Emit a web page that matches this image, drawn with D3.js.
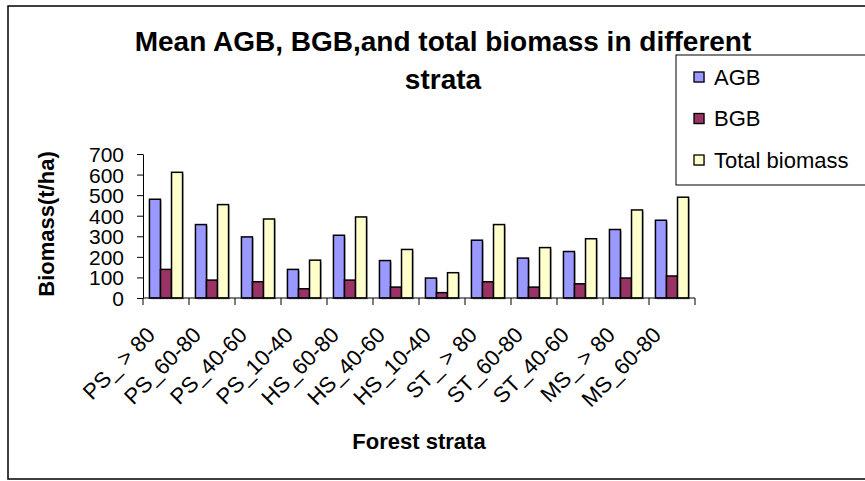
<!DOCTYPE html>
<html>
<head>
<meta charset="utf-8">
<script src="https://cdn.jsdelivr.net/npm/d3@7"></script>
<style>
  body { margin: 0; background: #fff; }
  text { font-family: "Liberation Sans", Arial, sans-serif; fill: #000; }
</style>
</head>
<body>
<script>
// data
var strata = ["PS_ > 80", "PS_60-80", "PS_40-60", "PS_10-40", "HS_60-80", "HS_40-60",
              "HS_10-40", "ST_ > 80", "ST_60-80", "ST_40-60", "MS_ > 80", "MS_60-80"];
var agb   = [480, 357, 297, 139, 305, 182, 97, 281, 194, 226, 333, 378];
var bgb   = [139, 87, 79, 45, 87, 53, 26, 79, 53, 69, 97, 107];
var total = [611, 454, 384, 184, 394, 236, 123, 357, 245, 288, 428, 490];
var seriesNames = ["AGB", "BGB", "Total biomass"];
var seriesColors = ["#9999ff", "#993366", "#ffffcc"];
var yTicks = [0, 100, 200, 300, 400, 500, 600, 700];

var svg = d3.select("body").append("svg")
    .attr("width", 865)
    .attr("height", 481);

// outer chart frame (runs off the right edge)
svg.append("rect")
    .attr("x", 8).attr("y", 6)
    .attr("width", 880).attr("height", 473)
    .attr("fill", "none").attr("stroke", "#000").attr("stroke-width", 1.5);

// title
var title = svg.append("text")
    .attr("text-anchor", "middle")
    .style("font-size", "28px").style("font-weight", "bold");
title.append("tspan").attr("x", 443).attr("y", 51).text("Mean AGB, BGB,and total biomass in different");
title.append("tspan").attr("x", 443).attr("y", 89).text("strata");

var plotL = 143, plotR = 695, plotT = 154, plotB = 298;

var x = d3.scaleBand().domain(strata).range([plotL, plotR]).paddingInner(0.28).paddingOuter(0.14);
var xs = d3.scaleBand().domain(seriesNames).range([0, x.bandwidth()]);
var y = d3.scaleLinear().domain([0, 700]).range([plotB, plotT]);

var rows = strata.map(function(s, i) { return [agb[i], bgb[i], total[i]]; });

var groups = svg.selectAll("g.grp")
    .data(rows)
    .enter().append("g")
    .attr("class", "grp")
    .attr("transform", function(d, i) { return "translate(" + x(strata[i]) + ",0)"; });

// soft shadow behind bars
groups.selectAll("rect.shadow")
    .data(function(d) { return d; })
    .enter().append("rect")
    .attr("class", "shadow")
    .attr("x", function(d, j) { return xs(seriesNames[j]) + 1.5; })
    .attr("y", function(d) { return y(d) + 1.5; })
    .attr("width", xs.bandwidth())
    .attr("height", function(d) { return plotB - y(d); })
    .attr("fill", "#c8c8c8");

groups.selectAll("rect.bar")
    .data(function(d) { return d; })
    .enter().append("rect")
    .attr("class", "bar")
    .attr("x", function(d, j) { return xs(seriesNames[j]); })
    .attr("y", function(d) { return y(d); })
    .attr("width", xs.bandwidth())
    .attr("height", function(d) { return plotB - y(d); })
    .attr("fill", function(d, j) { return seriesColors[j]; })
    .attr("stroke", "#000").attr("stroke-width", 1.5);

// y axis
var yAxis = svg.append("g")
    .attr("transform", "translate(" + plotL + ",0)")
    .call(d3.axisLeft(y).tickValues(yTicks).tickSize(6).tickPadding(13).tickSizeOuter(0));
yAxis.selectAll("text").style("font-size", "21px").attr("dy", "0.36em");
yAxis.selectAll("line, path").attr("stroke", "#000");

// x axis: ticks between categories
var xAxis = svg.append("g").attr("transform", "translate(0," + plotB + ")");
xAxis.append("line").attr("x1", plotL).attr("x2", plotR).attr("y1", 0).attr("y2", 0).attr("stroke", "#000");
var step = (plotR - plotL) / strata.length;
xAxis.selectAll("line.tk")
    .data(d3.range(strata.length + 1))
    .enter().append("line")
    .attr("class", "tk")
    .attr("x1", function(d) { return plotL + d * step; })
    .attr("x2", function(d) { return plotL + d * step; })
    .attr("y1", 0).attr("y2", 7)
    .attr("stroke", "#000");
xAxis.selectAll("text")
    .data(strata)
    .enter().append("text")
    .attr("text-anchor", "end")
    .attr("dy", "0.35em")
    .attr("transform", function(d) {
        return "translate(" + (x(d) + x.bandwidth() / 2 - 15) + ",33) rotate(-45)";
    })
    .style("font-size", "22px")
    .text(function(d) { return d; });

// axis titles
svg.append("text")
    .attr("x", 419).attr("y", 449)
    .attr("text-anchor", "middle")
    .style("font-size", "22px").style("font-weight", "bold")
    .text("Forest strata");
svg.append("text")
    .attr("transform", "translate(54,224) rotate(-90)")
    .attr("text-anchor", "middle")
    .style("font-size", "22px").style("font-weight", "bold")
    .text("Biomass(t/ha)");

// legend
var legend = svg.append("g");
legend.append("rect")
    .attr("x", 676).attr("y", 55)
    .attr("width", 220).attr("height", 130)
    .attr("fill", "#fff").attr("stroke", "#000").attr("stroke-width", 1);
var items = legend.selectAll("g.item")
    .data(seriesNames)
    .enter().append("g")
    .attr("class", "item")
    .attr("transform", function(d, i) { return "translate(694," + (77 + i * 41.5) + ")"; });
items.append("rect")
    .attr("x", 1).attr("y", -4).attr("width", 10).attr("height", 10)
    .attr("fill", "#c8c8c8");
items.append("rect")
    .attr("x", 0).attr("y", -5).attr("width", 10).attr("height", 10)
    .attr("fill", function(d, i) { return seriesColors[i]; })
    .attr("stroke", "#000").attr("stroke-width", 1.3);
items.append("text")
    .attr("x", 20).attr("dy", "0.36em")
    .style("font-size", "22px")
    .text(function(d) { return d; });
</script>
</body>
</html>
